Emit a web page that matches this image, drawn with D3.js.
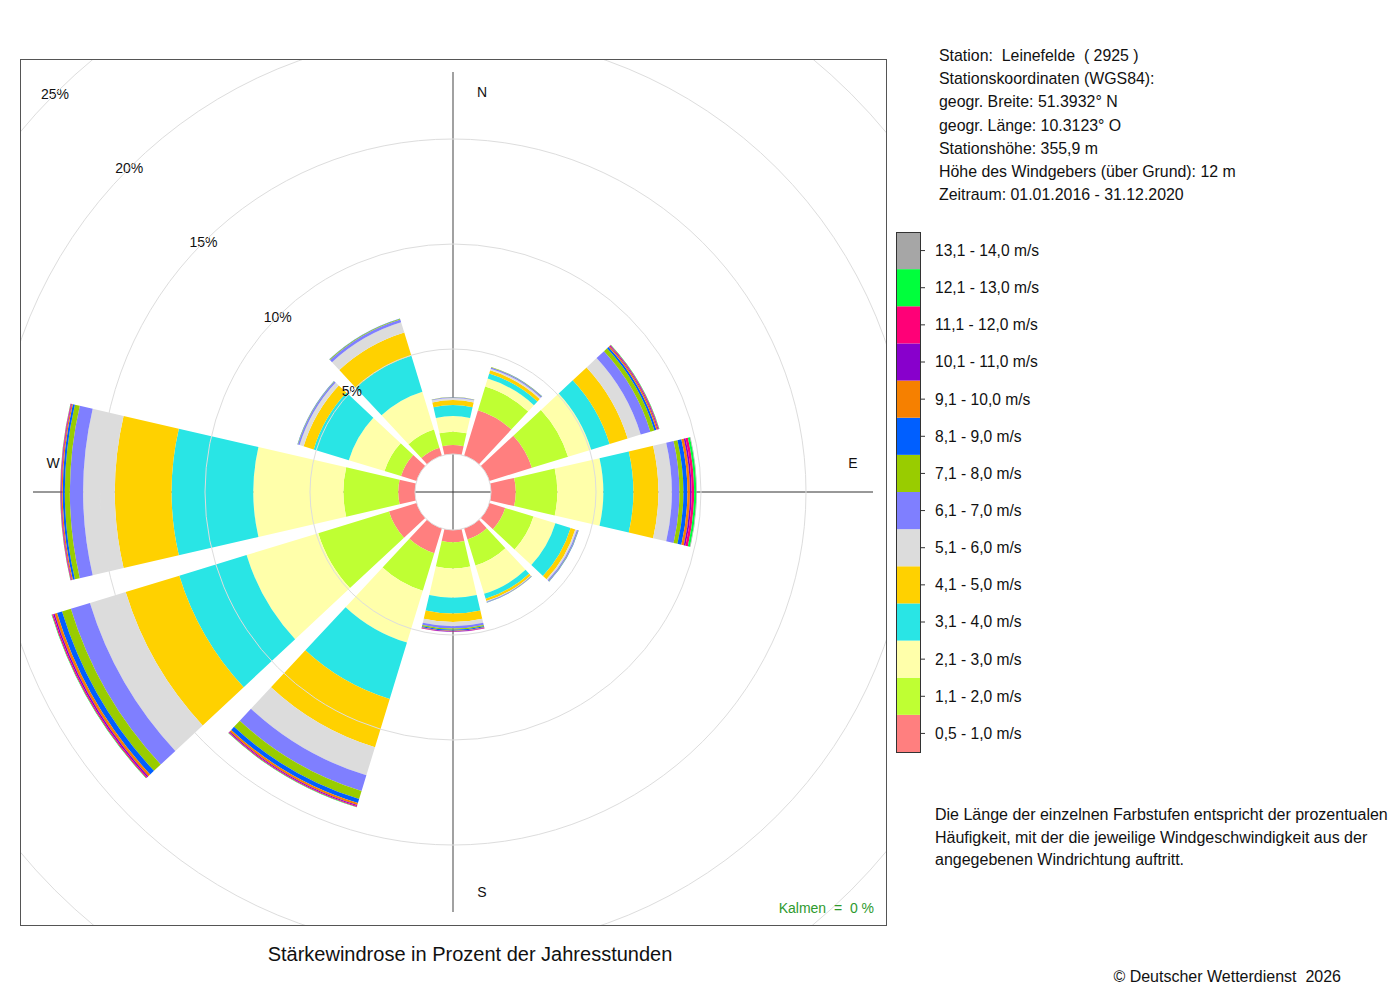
<!DOCTYPE html>
<html>
<head>
<meta charset="utf-8">
<script src="https://cdn.jsdelivr.net/npm/d3@7"></script>
<style>
  body { margin: 0; background: #fff; }
  svg text { font-family: "Liberation Sans", Arial, Helvetica, sans-serif; fill: #111; white-space: pre; }
</style>
</head>
<body>
<svg id="rose" width="1400" height="1000"></svg>
<script>

// compass directions of the 12 sectors (degrees)
var directions = [0, 30, 60, 90, 120, 150, 180, 210, 240, 270, 300, 330];

var speedClasses = ["0,5 - 1,0 m/s", "1,1 - 2,0 m/s", "2,1 - 3,0 m/s", "3,1 - 4,0 m/s",
                    "4,1 - 5,0 m/s", "5,1 - 6,0 m/s", "6,1 - 7,0 m/s", "7,1 - 8,0 m/s",
                    "8,1 - 9,0 m/s", "9,1 - 10,0 m/s", "10,1 - 11,0 m/s", "11,1 - 12,0 m/s",
                    "12,1 - 13,0 m/s", "13,1 - 14,0 m/s"];

var classColors = ["#ff7f7f", "#bfff33", "#ffffaa", "#29e5e5", "#ffd100", "#dcdcdc", "#7f7fff",
                   "#99cc00", "#005fff", "#f68000", "#8800cc", "#ff0077", "#00ff3c", "#a6a6a6"];

// percent of hours per speed class, one array per direction
var dirN   = [0.43, 0.63, 0.75, 0.52, 0.24, 0.10, 0.03, 0.01, 0, 0, 0, 0, 0, 0];
var dirNNE = [2.26, 1.18, 0.40, 0.25, 0.16, 0.08, 0.06, 0.02, 0.01, 0, 0, 0, 0, 0];
var dirENE = [2.12, 1.80, 1.15, 0.92, 0.90, 0.65, 0.48, 0.20, 0.10, 0.06, 0.04, 0.03, 0.02, 0];
var dirE   = [1.18, 1.98, 2.19, 1.43, 1.19, 0.64, 0.36, 0.19, 0.19, 0.12, 0.08, 0.12, 0.10, 0.03];
var dirESE = [0.79, 1.41, 1.09, 0.76, 0.23, 0.08, 0.06, 0.02, 0.01, 0, 0, 0, 0, 0];
var dirSSE = [0.55, 1.30, 1.41, 0.25, 0.11, 0.03, 0.03, 0.01, 0.01, 0, 0, 0, 0, 0];
var dirS   = [0.58, 1.25, 1.39, 0.76, 0.40, 0.20, 0.11, 0.06, 0.05, 0.03, 0.02, 0.01, 0, 0];
var dirSSW = [1.24, 1.87, 2.58, 2.81, 2.40, 1.40, 0.78, 0.40, 0.20, 0.10, 0.05, 0.04, 0.02, 0];
var dirWSW = [1.38, 3.52, 3.57, 3.35, 2.67, 1.78, 0.95, 0.44, 0.25, 0.12, 0.07, 0.06, 0.02, 0];
var dirW   = [0.80, 2.61, 4.29, 3.89, 2.70, 1.51, 0.63, 0.24, 0.10, 0.05, 0.03, 0.03, 0.01, 0];
var dirWNW = [0.78, 0.82, 1.78, 1.75, 0.50, 0.20, 0.08, 0.02, 0.01, 0, 0, 0, 0, 0];
var dirNNW = [0.40, 0.90, 1.88, 1.79, 1.16, 0.51, 0.14, 0.04, 0.01, 0, 0, 0, 0, 0];

var freqByDir = [dirN, dirNNE, dirENE, dirE, dirESE, dirSSE, dirS, dirSSW, dirWSW, dirW, dirWNW, dirNNW];

var ringPercents = [5, 10, 15, 20, 25];
var compassLabels = [{t: "N", a: 0}, {t: "E", a: 90}, {t: "S", a: 180}, {t: "W", a: 270}];

var stationLines = ["Station:  Leinefelde  ( 2925 )",
                    "Stationskoordinaten (WGS84):",
                    "geogr. Breite: 51.3932° N",
                    "geogr. Länge: 10.3123° O",
                    "Stationshöhe: 355,9 m",
                    "Höhe des Windgebers (über Grund): 12 m",
                    "Zeitraum: 01.01.2016 - 31.12.2020"];

var noteLines = ["Die Länge der einzelnen Farbstufen entspricht der prozentualen",
                 "Häufigkeit, mit der die jeweilige Windgeschwindigkeit aus der",
                 "angegebenen Windrichtung auftritt."];

// ---- layout
var plot = {x: 20, y: 59, w: 866, h: 866},
    cx = 453, cy = 492,
    holeR = 38,
    halfWidth = 13;   // degrees, sectors leave a small wedge gap

var svg = d3.select("#rose");

var r = d3.scaleLinear().domain([0, 25]).range([holeR, holeR + 21 * 25]);

svg.append("defs").append("clipPath").attr("id", "plotClip")
    .append("rect")
    .attr("x", plot.x).attr("y", plot.y).attr("width", plot.w).attr("height", plot.h);

var g = svg.append("g").attr("transform", "translate(" + cx + "," + cy + ")");
var gClip = svg.append("g").attr("clip-path", "url(#plotClip)")
    .append("g").attr("transform", "translate(" + cx + "," + cy + ")");

// grid circles
gClip.selectAll("circle.grid")
    .data([0].concat(ringPercents))
    .enter()
    .append("circle")
    .attr("class", "grid")
    .attr("r", function(d) { return r(d); })
    .attr("fill", "none")
    .attr("stroke", "#dddddd")
    .attr("stroke-width", 1);

// axis cross
g.append("line").attr("x1", 0).attr("x2", 0).attr("y1", -420).attr("y2", 420)
    .attr("stroke", "#8a8a8a").attr("stroke-width", 1.6);
g.append("line").attr("x1", -420).attr("x2", 420).attr("y1", 0).attr("y2", 0)
    .attr("stroke", "#333").attr("stroke-width", 1);

// stacked sectors
var rows = directions.map(function(dir, i) {
    var row = {dir: dir};
    speedClasses.forEach(function(c, j) { row[c] = freqByDir[i][j]; });
    return row;
});

var series = d3.stack().keys(speedClasses)(rows);

var arc = d3.arc()
    .innerRadius(function(d) { return r(d[0]); })
    .outerRadius(function(d) { return r(d[1]); })
    .startAngle(function(d) { return (d.data.dir - halfWidth) * Math.PI / 180; })
    .endAngle(function(d) { return (d.data.dir + halfWidth) * Math.PI / 180; });

g.selectAll("g.layer")
    .data(series)
    .enter()
    .append("g")
    .attr("class", "layer")
    .attr("fill", function(d, i) { return classColors[i]; })
    .selectAll("path")
    .data(function(d) { return d.filter(function(s) { return s[1] - s[0] > 0; }); })
    .enter()
    .append("path")
    .attr("d", arc);

// ring labels on the NW diagonal
g.selectAll("text.ring")
    .data(ringPercents)
    .enter()
    .append("text")
    .attr("class", "ring")
    .attr("x", function(d) { return -r(d) * Math.SQRT1_2; })
    .attr("y", function(d) { return -r(d) * Math.SQRT1_2; })
    .attr("text-anchor", "middle")
    .attr("dy", "0.35em")
    .style("font-size", "14px")
    .text(function(d) { return d + "%"; });

// compass letters, sitting a little off the axis
var labelR = 400, labelOff = 29;
g.selectAll("text.compass")
    .data(compassLabels)
    .enter()
    .append("text")
    .attr("class", "compass")
    .attr("x", function(d) {
        var a = d.a * Math.PI / 180;
        return labelR * Math.sin(a) + (d.a % 180 === 0 ? labelOff : 0);
    })
    .attr("y", function(d) {
        var a = d.a * Math.PI / 180;
        return -labelR * Math.cos(a) - (d.a % 180 === 0 ? 0 : labelOff);
    })
    .attr("text-anchor", "middle")
    .attr("dy", "0.35em")
    .style("font-size", "14px")
    .text(function(d) { return d.t; });

// frame
svg.append("rect")
    .attr("x", plot.x + 0.5).attr("y", plot.y + 0.5)
    .attr("width", plot.w).attr("height", plot.h)
    .attr("fill", "none").attr("stroke", "#555").attr("stroke-width", 1);

svg.append("text")
    .attr("x", plot.x + plot.w - 12).attr("y", 913)
    .attr("text-anchor", "end")
    .style("font-size", "14px")
    .style("fill", "#2e9a2e")
    .text("Kalmen  =  0 %");

svg.append("text")
    .attr("x", 470).attr("y", 961)
    .attr("text-anchor", "middle")
    .style("font-size", "20px")
    .text("Stärkewindrose in Prozent der Jahresstunden");

// station info
svg.selectAll("text.station")
    .data(stationLines)
    .enter()
    .append("text")
    .attr("class", "station")
    .attr("x", 939)
    .attr("y", function(d, i) { return 61 + i * 23.2; })
    .style("font-size", "15.9px")
    .text(function(d) { return d; });

// legend
var legendY = d3.scaleBand()
    .domain(speedClasses.slice().reverse())
    .range([232, 752]);

var legend = svg.append("g");
legend.selectAll("rect")
    .data(speedClasses)
    .enter()
    .append("rect")
    .attr("x", 896).attr("width", 24)
    .attr("y", function(d) { return legendY(d); })
    .attr("height", legendY.bandwidth())
    .attr("fill", function(d, i) { return classColors[i]; });
legend.append("rect")
    .attr("x", 896.5).attr("y", 232.5).attr("width", 24).attr("height", 520)
    .attr("fill", "none").attr("stroke", "#333");
legend.selectAll("line")
    .data(speedClasses)
    .enter()
    .append("line")
    .attr("x1", 920).attr("x2", 925)
    .attr("y1", function(d) { return legendY(d) + legendY.bandwidth() / 2; })
    .attr("y2", function(d) { return legendY(d) + legendY.bandwidth() / 2; })
    .attr("stroke", "#333");
legend.selectAll("text")
    .data(speedClasses)
    .enter()
    .append("text")
    .attr("x", 935)
    .attr("y", function(d) { return legendY(d) + legendY.bandwidth() / 2; })
    .attr("dy", "0.35em")
    .style("font-size", "15.6px")
    .text(function(d) { return d; });

svg.selectAll("text.note")
    .data(noteLines)
    .enter()
    .append("text")
    .attr("class", "note")
    .attr("x", 935)
    .attr("y", function(d, i) { return 820 + i * 22.5; })
    .style("font-size", "16px")
    .text(function(d) { return d; });

svg.append("text")
    .attr("x", 1341).attr("y", 982)
    .attr("text-anchor", "end")
    .style("font-size", "16px")
    .text("© Deutscher Wetterdienst  2026");

</script>
</body>
</html>
